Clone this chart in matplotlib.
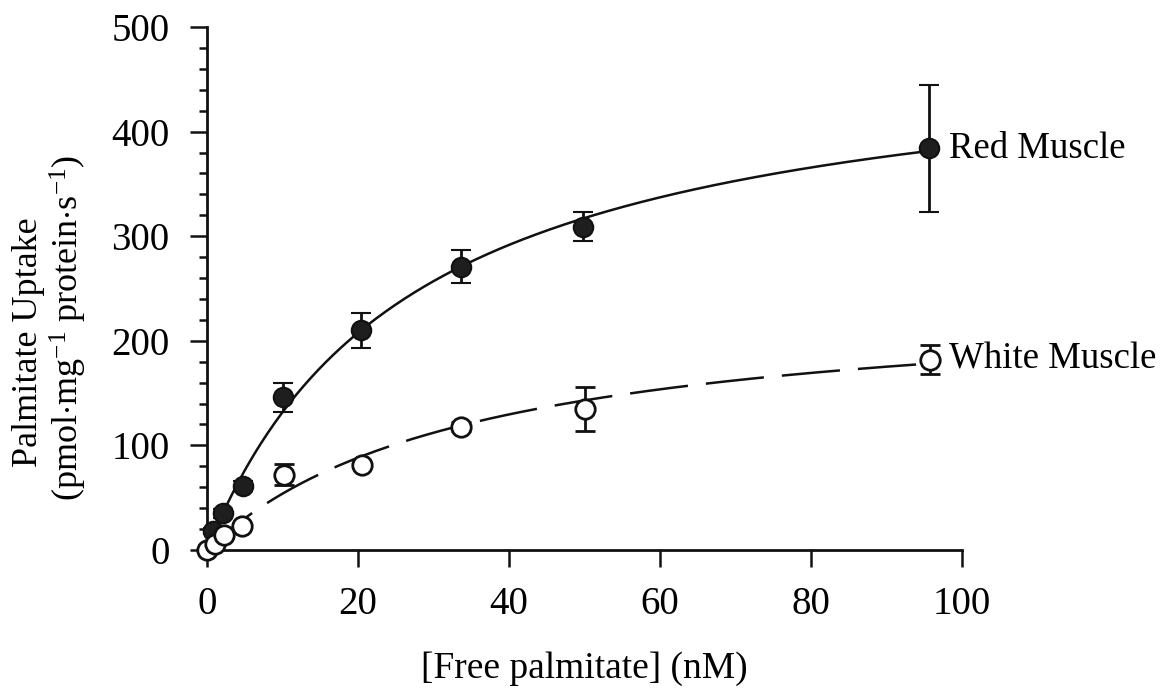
import numpy as np
import matplotlib
matplotlib.use("Agg")
import matplotlib.pyplot as plt
from matplotlib.ticker import MultipleLocator

plt.rcParams["font.family"] = ["Liberation Serif", "DejaVu Serif"]
plt.rcParams["mathtext.fontset"] = "custom"
plt.rcParams["mathtext.rm"] = "Liberation Serif"
plt.rcParams["mathtext.it"] = "Liberation Serif:italic"

# Measured uptake (mean ± error) versus free palmitate concentration
red_x = [0.8, 2.1, 4.8, 10.1, 20.4, 33.6, 49.8, 95.6]
red_y = [18, 35, 61, 146, 210, 271, 309, 384]
red_err = [3, 4, 5, 14, 17, 16, 14, 61]

white_x = [0.0, 1.0, 2.2, 4.7, 10.2, 20.5, 33.6, 50.0, 95.8]
white_y = [0, 6, 14, 23, 72, 81, 118, 135, 182]
white_err = [1, 2, 3, 3, 10, 3, 4, 21, 14]

# Michaelis-Menten fit parameters (Vmax, Km)
red_fit = (490.0, 27.2)
white_fit = (244.0, 35.3)

x_ticks = [0, 20, 40, 60, 80, 100]
y_ticks = [0, 100, 200, 300, 400, 500]

W, H, DPI = 1163, 688, 100
fig = plt.figure(figsize=(W / DPI, H / DPI), dpi=DPI)
ax = fig.add_axes([207 / W, 1 - 550 / H, (962 - 207) / W, (550 - 27) / H])

ink = "#111111"
lw = 1.8

def mm(params, x):
    vmax, km = params
    return vmax * x / (km + x)

xr = np.linspace(0, red_x[-1], 300)
ax.plot(xr, mm(red_fit, xr), color=ink, lw=lw, zorder=2, solid_capstyle="butt")
xw = np.linspace(0, white_x[-1], 300)
ax.plot(xw, mm(white_fit, xw), color=ink, lw=lw, zorder=2,
        ls=(0, (42 / lw, 13 / lw)))

ms = 14
ax.errorbar(red_x, red_y, yerr=red_err, fmt="o", ms=ms, mfc="#1e1e1e",
            mec=ink, mew=1.5, ecolor=ink, elinewidth=2.0, capsize=7.5,
            capthick=2.2, zorder=3, clip_on=False)
ax.errorbar(white_x, white_y, yerr=white_err, fmt="o", ms=ms, mfc="white",
            mec=ink, mew=2.0, ecolor=ink, elinewidth=2.0, capsize=7.5,
            capthick=2.2, zorder=4, clip_on=False)

ax.set_xlim(0, 100)
ax.set_ylim(0, 500)
ax.set_xticks(x_ticks)
ax.set_yticks(y_ticks)
ax.yaxis.set_minor_locator(MultipleLocator(20))

for s in ("top", "right"):
    ax.spines[s].set_visible(False)
for s in ("left", "bottom"):
    ax.spines[s].set_linewidth(2.0)
    ax.spines[s].set_color(ink)

ax.tick_params(axis="both", which="major", direction="out", length=12,
               width=1.8, color=ink, labelsize=28)
ax.tick_params(axis="y", which="major", pad=15)
ax.tick_params(axis="x", which="major", pad=14)
ax.tick_params(axis="y", which="minor", direction="out", length=6,
               width=1.8, color=ink)
ax.tick_params(axis="x", which="minor", length=0)

ax.set_xlabel("[Free palmitate] (nM)", fontsize=27, labelpad=20)

fig.text(29 / W, 1 - 342 / H, "Palmitate Uptake", rotation=90,
         fontsize=26, ha="center", va="center")
fig.text(68 / W, 1 - 328 / H,
         r"(pmol$\cdot$mg$^{-1}$ protein$\cdot$s$^{-1}$)", rotation=90,
         fontsize=26, ha="center", va="center")

ax.text(red_x[-1] + 2.7, red_y[-1], "Red Muscle", fontsize=26.5,
        ha="left", va="center")
ax.text(white_x[-1] + 2.5, white_y[-1], "White Muscle", fontsize=26.5,
        ha="left", va="center")

fig.savefig("out.png", dpi=DPI)
